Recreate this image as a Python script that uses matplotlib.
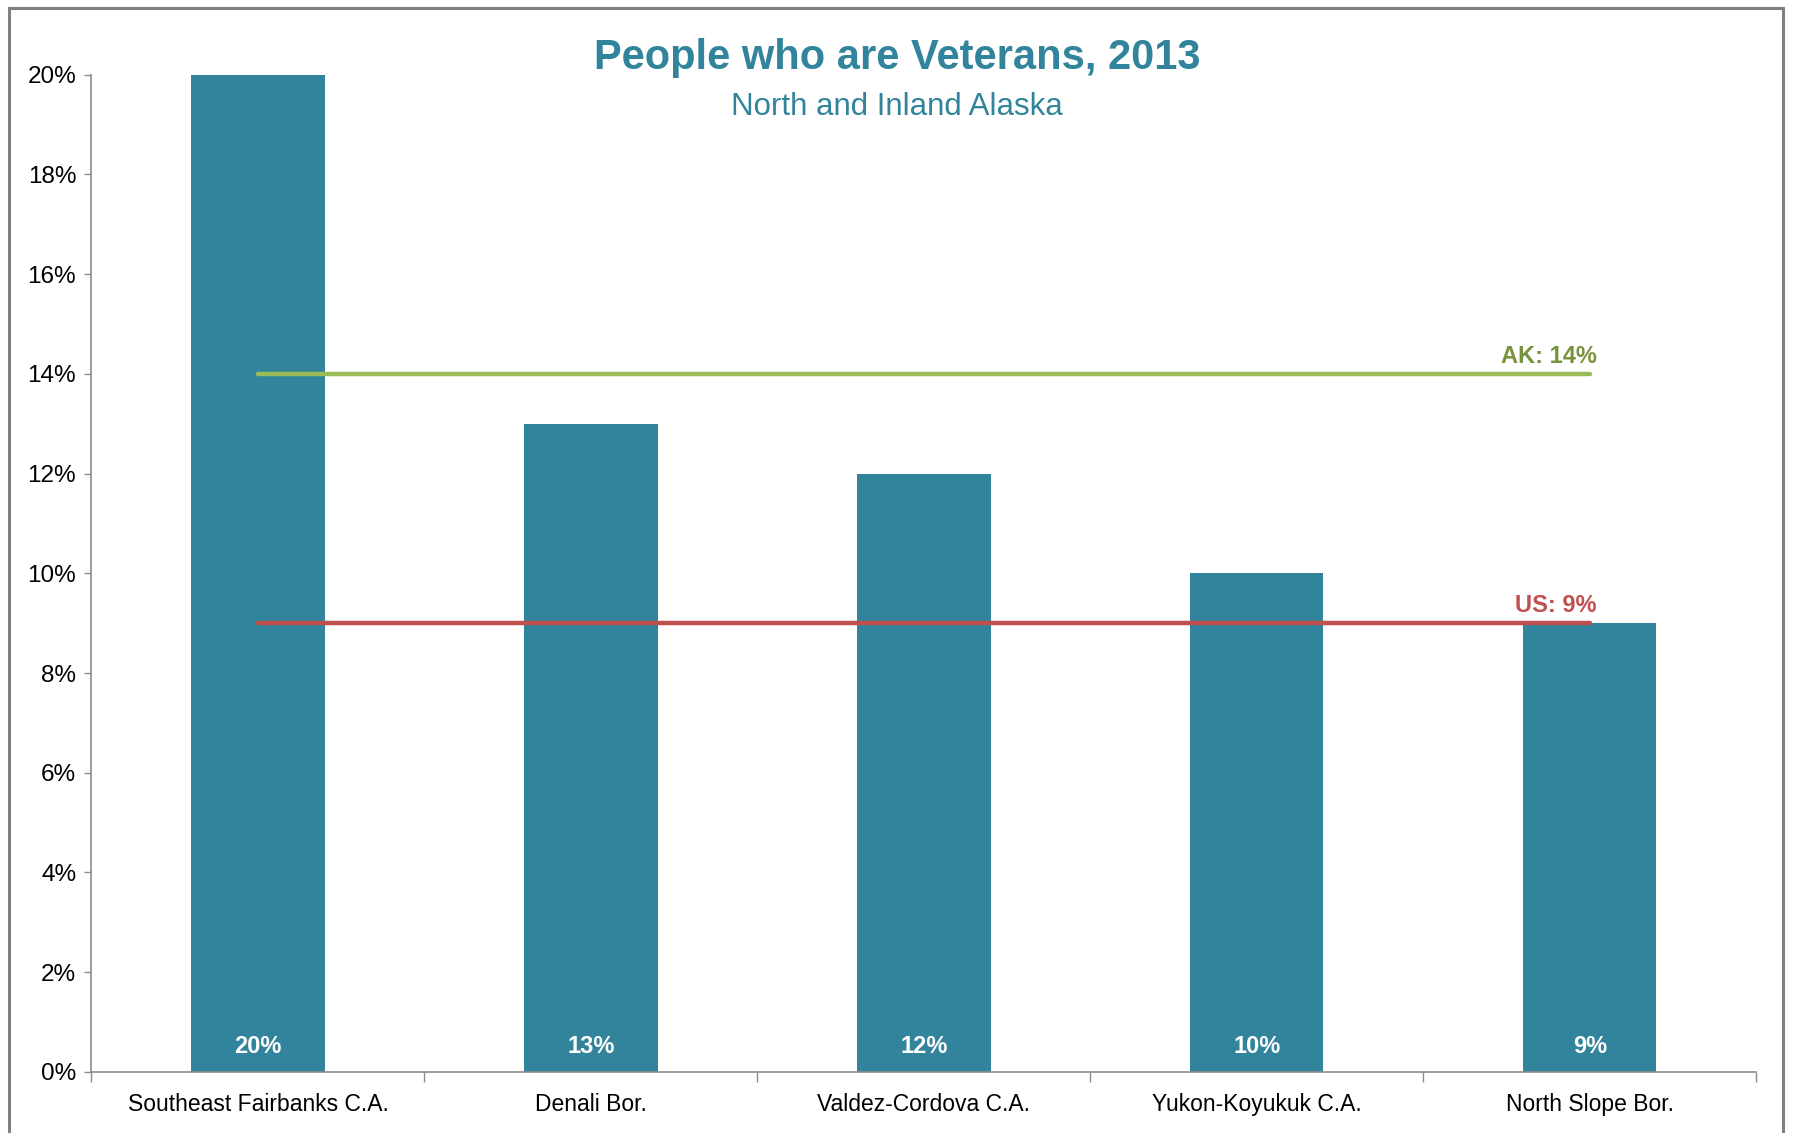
import matplotlib
matplotlib.use('Agg')
import numpy as np
import matplotlib.pyplot as plt
from matplotlib.patches import Rectangle
from matplotlib.ticker import FixedLocator

# data
areas = ['Southeast Fairbanks C.A.', 'Denali Bor.', 'Valdez-Cordova C.A.',
         'Yukon-Koyukuk C.A.', 'North Slope Bor.']
veterans = [20, 13, 12, 10, 9]
ak_rate = 14
us_rate = 9
y_ticks = [0, 2, 4, 6, 8, 10, 12, 14, 16, 18, 20]

plt.rcParams['font.family'] = ['Liberation Sans Narrow', 'Liberation Sans', 'DejaVu Sans']

BAR = '#31849B'
GREEN = '#9BBB59'
GREEN_TXT = '#77933C'
RED = '#C0504D'
AXIS = '#8C8C8C'

fig = plt.figure(figsize=(17.94, 11.33), dpi=100)
ax = fig.add_axes([0.051, 0.054, 0.928, 0.880])

x = np.arange(len(areas))
ax.bar(x, veterans, width=0.4, color=BAR, zorder=2)

# reference lines from first to last category centre
ax.plot([x[0], x[-1]], [ak_rate, ak_rate], color=GREEN, lw=3.2,
        solid_capstyle='round', zorder=3)
ax.plot([x[0], x[-1]], [us_rate, us_rate], color=RED, lw=3.2,
        solid_capstyle='round', zorder=3)
ax.text(x[-1] + 0.02, ak_rate + 0.12, 'AK: %d%%' % ak_rate, color=GREEN_TXT,
        fontsize=17, fontweight='bold', ha='right', va='bottom')
ax.text(x[-1] + 0.02, us_rate + 0.12, 'US: %d%%' % us_rate, color=RED,
        fontsize=17, fontweight='bold', ha='right', va='bottom')

for xi, v in zip(x, veterans):
    ax.text(xi, 0.5, '%d%%' % v, color='white', fontsize=17,
            fontweight='bold', ha='center', va='center', zorder=4)

ax.set_xlim(-0.5, len(areas) - 0.5)
ax.set_ylim(0, 20)
ax.set_yticks(y_ticks)
ax.set_yticklabels(['%d%%' % t for t in y_ticks])
ax.set_xticks(x)
ax.set_xticklabels(areas)
ax.xaxis.set_minor_locator(FixedLocator(np.arange(-0.5, len(areas), 1.0)))

ax.tick_params(axis='y', length=5, width=1, color=AXIS, labelsize=17.5,
               pad=6, direction='out')
ax.tick_params(axis='x', which='major', length=0, labelsize=16.5, pad=15)
ax.tick_params(axis='x', which='minor', length=7, width=1, color=AXIS,
               direction='out')

for s in ['top', 'right']:
    ax.spines[s].set_visible(False)
for s in ['left', 'bottom']:
    ax.spines[s].set_color(AXIS)
    ax.spines[s].set_linewidth(1.2)

fig.text(0.5, 0.949, 'People who are Veterans, 2013', color=BAR,
         fontsize=30, fontweight='bold', ha='center', va='center')
fig.text(0.5, 0.906, 'North and Inland Alaska', color=BAR,
         fontsize=22.5, ha='center', va='center')

# outer frame (runs off the bottom like the source)
fig.patches.append(Rectangle((0.005, -0.05), 0.989, 1.043,
                             transform=fig.transFigure, fill=False,
                             edgecolor='#808080', lw=2.2))

fig.savefig('out.png', dpi=100)
